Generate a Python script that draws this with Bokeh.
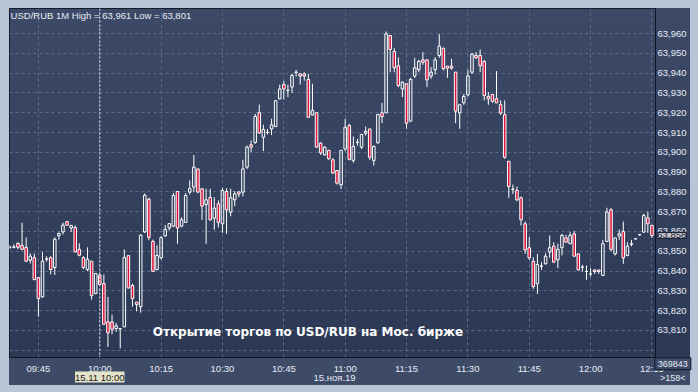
from bokeh.plotting import figure
from bokeh.models import (FixedTicker, CustomJSTickFormatter, Span, Label, ColumnDataSource,
                          Range1d, GlobalInlineStyleSheet)
from bokeh.embed import file_html
from bokeh.resources import INLINE

# ---------------- data (USD/RUB, 1-minute candles, 15.11.2019) ----------------
first_time = "09:38"
opens = [63.8520, 63.8520, 63.8540, 63.8530, 63.8520, 63.8455, 63.8468, 63.8367, 63.8270, 63.8460,
         63.8468, 63.8418, 63.8578, 63.8598, 63.8650, 63.8618, 63.8620, 63.8510, 63.8468, 63.8408,
         63.8450, 63.8287, 63.8380, 63.8337, 63.8144, 63.8143, 63.8110, 63.8108, 63.8118, 63.8478,
         63.8327, 63.8243, 63.8220, 63.8598, 63.8763, 63.8550, 63.8408, 63.8468, 63.8578, 63.8618,
         63.8627, 63.8802, 63.8627, 63.8646, 63.8799, 63.8824, 63.8916, 63.8816, 63.8736, 63.8772,
         63.8667, 63.8740, 63.8639, 63.8802, 63.8698, 63.8760, 63.8800, 63.8799, 63.8925, 63.9038,
         63.9050, 63.9200, 63.9076, 63.9100, 63.9118, 63.9130, 63.9270, 63.9342, 63.9312, 63.9330,
         63.9404, 63.9396, 63.9396, 63.9368, 63.9189, 63.9200, 63.9046, 63.8987, 63.9010, 63.8962,
         63.8908, 63.8836, 63.9017, 63.9135, 63.8959, 63.9050, 63.9026, 63.9096, 63.9118, 63.8959,
         63.9048, 63.9199, 63.9199, 63.9590, 63.9509, 63.9437, 63.9320, 63.9346, 63.9157, 63.9385,
         63.9417, 63.9467, 63.9467, 63.9385, 63.9417, 63.9489, 63.9526, 63.9435, 63.9435, 63.9405,
         63.9199, 63.9250, 63.9290, 63.9405, 63.9489, 63.9489, 63.9459, 63.9282, 63.9292, 63.9270,
         63.9241, 63.9190, 63.8955, 63.8814, 63.8807, 63.8770, 63.8639, 63.8518, 63.8449, 63.8336,
         63.8425, 63.8437, 63.8496, 63.8526, 63.8457, 63.8518, 63.8568, 63.8538, 63.8588, 63.8487,
         63.8420, 63.8398, 63.8386, 63.8406, 63.8406, 63.8378, 63.8550, 63.8710, 63.8487, 63.8577,
         63.8600, 63.8479, 63.8535, 63.8563, 63.8583, 63.8597, 63.8669, 63.8631]
highs = [63.8530, 63.8535, 63.8545, 63.8644, 63.8570, 63.8490, 63.8489, 63.8370, 63.8497, 63.8475,
         63.8475, 63.8570, 63.8595, 63.8645, 63.8650, 63.8634, 63.8630, 63.8540, 63.8475, 63.8520,
         63.8450, 63.8388, 63.8383, 63.8383, 63.8270, 63.8180, 63.8138, 63.8110, 63.8509, 63.8478,
         63.8337, 63.8243, 63.8586, 63.8792, 63.8771, 63.8559, 63.8530, 63.8576, 63.8632, 63.8640,
         63.8794, 63.8802, 63.8672, 63.8794, 63.8858, 63.8987, 63.8916, 63.8816, 63.8816, 63.8816,
         63.8773, 63.8757, 63.8819, 63.8819, 63.8816, 63.8804, 63.8802, 63.8962, 63.9034, 63.9060,
         63.9194, 63.9241, 63.9139, 63.9118, 63.9169, 63.9261, 63.9342, 63.9359, 63.9342, 63.9396,
         63.9416, 63.9400, 63.9404, 63.9396, 63.9346, 63.9200, 63.9051, 63.9030, 63.9012, 63.8970,
         63.8908, 63.9010, 63.9169, 63.9144, 63.9080, 63.9068, 63.9093, 63.9130, 63.9118, 63.9034,
         63.9191, 63.9250, 63.9610, 63.9590, 63.9526, 63.9479, 63.9358, 63.9346, 63.9376, 63.9477,
         63.9467, 63.9506, 63.9467, 63.9430, 63.9480, 63.9598, 63.9526, 63.9435, 63.9472, 63.9405,
         63.9240, 63.9295, 63.9418, 63.9501, 63.9506, 63.9519, 63.9467, 63.9304, 63.9292, 63.9410,
         63.9262, 63.9262, 63.8955, 63.8837, 63.8827, 63.8777, 63.8650, 63.8571, 63.8470, 63.8487,
         63.8445, 63.8490, 63.8580, 63.8546, 63.8538, 63.8588, 63.8583, 63.8597, 63.8602, 63.8487,
         63.8432, 63.8428, 63.8415, 63.8406, 63.8406, 63.8558, 63.8720, 63.8718, 63.8568, 63.8610,
         63.8650, 63.8546, 63.8558, 63.8566, 63.8588, 63.8690, 63.8701, 63.8631]
lows = [63.8510, 63.8515, 63.8510, 63.8505, 63.8447, 63.8438, 63.8354, 63.8170, 63.8266, 63.8447,
        63.8383, 63.8380, 63.8559, 63.8585, 63.8630, 63.8598, 63.8494, 63.8475, 63.8410, 63.8400,
        63.8256, 63.8283, 63.8330, 63.8127, 63.8017, 63.8080, 63.8093, 63.8010, 63.8118, 63.8312,
        63.8220, 63.8197, 63.8190, 63.8593, 63.8556, 63.8396, 63.8404, 63.8458, 63.8573, 63.8605,
        63.8622, 63.8538, 63.8621, 63.8645, 63.8787, 63.8799, 63.8794, 63.8659, 63.8538, 63.8655,
        63.8609, 63.8620, 63.8593, 63.8588, 63.8677, 63.8728, 63.8773, 63.8777, 63.8916, 63.9001,
        63.9043, 63.9093, 63.9006, 63.9090, 63.9088, 63.9130, 63.9267, 63.9267, 63.9278, 63.9300,
        63.9383, 63.9342, 63.9362, 63.9177, 63.9186, 63.9022, 63.8987, 63.8984, 63.8963, 63.8891,
        63.8837, 63.8815, 63.9006, 63.8959, 63.8947, 63.9034, 63.9017, 63.9085, 63.8962, 63.8933,
        63.9043, 63.9147, 63.9199, 63.9405, 63.9405, 63.9329, 63.9279, 63.9119, 63.9157, 63.9375,
        63.9405, 63.9442, 63.9329, 63.9371, 63.9393, 63.9477, 63.9413, 63.9376, 63.9417, 63.9147,
        63.9119, 63.9240, 63.9282, 63.9396, 63.9472, 63.9405, 63.9262, 63.9240, 63.9250, 63.9248,
        63.9190, 63.8967, 63.8770, 63.8790, 63.8753, 63.8630, 63.8487, 63.8457, 63.8310, 63.8285,
        63.8406, 63.8433, 63.8467, 63.8442, 63.8415, 63.8479, 63.8546, 63.8538, 63.8475, 63.8403,
        63.8398, 63.8356, 63.8373, 63.8386, 63.8386, 63.8378, 63.8546, 63.8501, 63.8479, 63.8558,
        63.8437, 63.8475, 63.8525, 63.8560, 63.8578, 63.8593, 63.8593, 63.8568]
closes = [63.8522, 63.8522, 63.8520, 63.8510, 63.8450, 63.8475, 63.8357, 63.8261, 63.8450, 63.8462,
          63.8408, 63.8561, 63.8590, 63.8632, 63.8632, 63.8630, 63.8497, 63.8480, 63.8418, 63.8460,
          63.8276, 63.8388, 63.8333, 63.8132, 63.8088, 63.8106, 63.8123, 63.8110, 63.8468, 63.8315,
          63.8261, 63.8231, 63.8581, 63.8783, 63.8570, 63.8399, 63.8479, 63.8569, 63.8610, 63.8640,
          63.8782, 63.8618, 63.8659, 63.8782, 63.8816, 63.8925, 63.8799, 63.8728, 63.8760, 63.8659,
          63.8718, 63.8646, 63.8807, 63.8710, 63.8770, 63.8790, 63.8790, 63.8916, 63.9026, 63.9026,
          63.9181, 63.9098, 63.9115, 63.9101, 63.9139, 63.9261, 63.9320, 63.9320, 63.9313, 63.9388,
          63.9405, 63.9385, 63.9385, 63.9177, 63.9211, 63.9026, 63.8997, 63.9026, 63.8967, 63.8895,
          63.8844, 63.9010, 63.9127, 63.8964, 63.9030, 63.9051, 63.9090, 63.9106, 63.8975, 63.9030,
          63.9191, 63.9180, 63.9598, 63.9519, 63.9427, 63.9337, 63.9354, 63.9147, 63.9368, 63.9427,
          63.9459, 63.9455, 63.9366, 63.9405, 63.9467, 63.9536, 63.9422, 63.9425, 63.9425, 63.9208,
          63.9240, 63.9282, 63.9385, 63.9496, 63.9477, 63.9438, 63.9287, 63.9270, 63.9258, 63.9250,
          63.9198, 63.8975, 63.8827, 63.8813, 63.8760, 63.8659, 63.8507, 63.8467, 63.8322, 63.8433,
          63.8425, 63.8475, 63.8518, 63.8445, 63.8510, 63.8580, 63.8546, 63.8580, 63.8475, 63.8406,
          63.8420, 63.8398, 63.8386, 63.8398, 63.8398, 63.8538, 63.8698, 63.8510, 63.8568, 63.8588,
          63.8467, 63.8526, 63.8538, 63.8563, 63.8584, 63.8681, 63.8639, 63.8580]

price_ticks = [63.81, 63.82, 63.83, 63.84, 63.85, 63.86, 63.87, 63.88, 63.89, 63.90,
               63.91, 63.92, 63.93, 63.94, 63.95, 63.96]
grid_price_ticks = [63.80] + price_ticks
title_text = "USD/RUB 1M High = 63,961 Low = 63,801"
caption_text = "Открытие торгов по USD/RUB на Мос. бирже"
date_text = "15.ноя.19"
cursor_time = "10:00"
cursor_text = "15.11 10:00"
counter_top = "369843"
counter_bottom = ">158<"

# ---------------- derived ----------------
n = len(opens)
h0, m0 = map(int, first_time.split(":"))
start_min = h0 * 60 + m0
times = ["%02d:%02d" % divmod(start_min + i, 60) for i in range(n)]
idx = list(range(n))
quarter_idx = [i for i in idx if (start_min + i) % 15 == 0]
cursor_i = times.index(cursor_time)
last_text = ("%.3f" % closes[-1]).replace(".", ",")

RED = "#dc143c"
TXT = "#e6ecf5"
RIM = "#b9c5d6"
STRIP = "#3e4b67"
FONT = "Liberation Sans"
FS = "9.5px"

tops = [max(o, c) for o, c in zip(opens, closes)]
bots = [min(o, c) for o, c in zip(opens, closes)]
down = [c < o for o, c in zip(opens, closes)]
down[cursor_i] = True
src = ColumnDataSource(dict(
    x=idx, h=highs, l=lows, top=tops, bot=bots,
    fill=[RED if d else "#ffffff" for d in down],
    falpha=[1.0 if d else 0.0 for d in down]))

# panel backgrounds (vertical gradient in chart + price strip, flat time strip, light frame)
css = """
html, body { overflow: hidden; }
body {
  padding: 8px 0 0 9px !important;
  background:
    linear-gradient(to bottom, #3d4a67, #2c3955) 9px 8px / 681px 349px no-repeat,
    linear-gradient(%s, %s) 9px 357px / 681px 28px no-repeat,
    %s !important;
}
""" % (STRIP, STRIP, RIM)

p = figure(frame_width=646, frame_height=349,
           x_range=Range1d(-0.07, n - 0.13), y_range=Range1d(63.79636, 63.97263),
           y_axis_location="right", output_backend="svg", toolbar_location=None,
           min_border_left=0, min_border_top=0, min_border_right=35, min_border_bottom=28,
           background_fill_alpha=0, border_fill_alpha=0,
           outline_line_color="#141c2c")
p.stylesheets = [GlobalInlineStyleSheet(css=css)]

# wicks above and below the body, so hollow bodies stay empty
p.segment(x0="x", y0="top", x1="x", y1="h", source=src, line_color="#ffffff", line_width=1)
p.segment(x0="x", y0="l", x1="x", y1="bot", source=src, line_color="#ffffff", line_width=1)
p.vbar(x="x", top="top", bottom="bot", width=0.62, source=src,
       fill_color="fill", fill_alpha="falpha", line_color="#ffffff", line_width=1)

# axes
p.yaxis.ticker = FixedTicker(ticks=price_ticks)
p.yaxis.formatter = CustomJSTickFormatter(code="return tick.toFixed(3).replace('.', ',');")
p.xaxis.ticker = FixedTicker(ticks=quarter_idx)
p.xaxis.major_label_overrides = {i: times[i] for i in quarter_idx}
for ax in (p.xaxis[0], p.yaxis[0]):
    ax.major_tick_line_color = None
    ax.minor_tick_line_color = None
    ax.major_tick_out = 0
    ax.major_tick_in = 0
    ax.minor_tick_out = 0
    ax.minor_tick_in = 0
    ax.axis_line_color = "#0e1524"
    ax.axis_line_width = 1
    ax.major_label_text_color = TXT
    ax.major_label_text_font = FONT
    ax.major_label_text_font_size = FS
p.yaxis.major_label_standoff = 2
p.xaxis.major_label_standoff = 5

p.ygrid.ticker = FixedTicker(ticks=grid_price_ticks)
p.xgrid.ticker = FixedTicker(ticks=quarter_idx)
for g in (p.xgrid[0], p.ygrid[0]):
    g.grid_line_color = "#5d6a86"
    g.grid_line_dash = "3 3"
    g.grid_line_width = 1

# cursor line
p.add_layout(Span(location=cursor_i, dimension="height", line_color="#eef2f8",
                  line_dash="2 2", line_width=1))

# texts inside the frame
p.add_layout(Label(x=0.2, y=63.9691, text=title_text, text_color=TXT, text_font=FONT,
                   text_font_size=FS, text_baseline="middle", text_align="left"))
p.add_layout(Label(x=72.9, y=63.8090, text=caption_text, text_color="#ffffff",
                   text_font="DejaVu Sans", text_font_size="12px", text_font_style="bold",
                   text_baseline="middle", text_align="center"))

# texts in the axis strips (side-panel annotations, so they are not clipped to the frame)
outside = [
    Label(x=cursor_i, y=63.7865, text=cursor_text, text_color="#1a1a1a",
          text_font=FONT, text_font_size=FS, text_baseline="middle", text_align="center",
          background_fill_color="#e4e2c8"),
    Label(x=79.4, y=63.7865, text=date_text, text_color=TXT, text_font=FONT,
          text_font_size=FS, text_baseline="middle", text_align="center"),
    Label(x=n + 0.3, y=closes[-1], text=last_text, text_color="#1c2231", text_font=FONT,
          text_font_size=FS, text_baseline="middle", text_align="left",
          background_fill_color="#c3c7cf", border_line_color="#1c2231"),
    Label(x=n + 4.1, y=63.7932, text=counter_top, text_color=TXT, text_font=FONT,
          text_font_size="9px", text_baseline="middle", text_align="center",
          background_fill_color=STRIP, border_line_color="#0e1524", padding=3),
    Label(x=n + 4.1, y=63.7862, text=counter_bottom, text_color=TXT, text_font=FONT,
          text_font_size="9px", text_baseline="middle", text_align="center"),
]
for lab in outside:
    p.add_layout(lab, "right")

open("out.html", "w").write(file_html(p, INLINE))
